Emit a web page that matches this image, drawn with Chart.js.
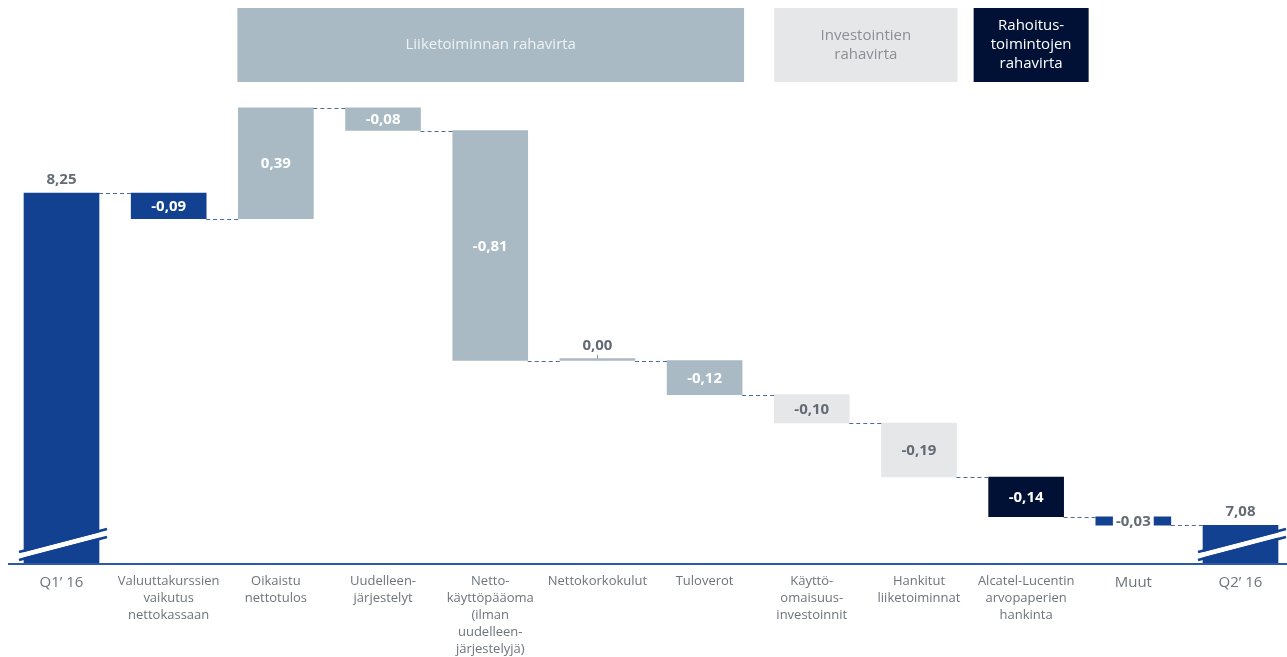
<!DOCTYPE html>
<html>
<head>
<meta charset="utf-8">
<script src="https://cdn.jsdelivr.net/npm/chart.js@4.4.1/dist/chart.umd.min.js"></script>
<style>
html,body{margin:0;padding:0;background:#fff;}
#wrap{width:1287px;height:657px;position:relative;}
</style>
</head>
<body>
<div id="wrap"><canvas id="c" width="1287" height="657"></canvas></div>
<script>
const categories = [
  "Q1’ 16",
  ["Valuuttakurssien","vaikutus","nettokassaan"],
  ["Oikaistu","nettotulos"],
  ["Uudelleen-","järjestelyt"],
  ["Netto-","käyttöpääoma","(ilman","uudelleen-","järjestelyjä)"],
  "Nettokorkokulut",
  "Tuloverot",
  ["Käyttö-","omaisuus-","investoinnit"],
  ["Hankitut","liiketoiminnat"],
  ["Alcatel-Lucentin","arvopaperien","hankinta"],
  "Muut",
  "Q2’ 16"
];
const deltas = [8.25, -0.09, 0.39, -0.08, -0.81, 0.00, -0.12, -0.10, -0.19, -0.14, -0.03, 7.08];
const isTotal = [true, false, false, false, false, false, false, false, false, false, false, true];
const valueLabels = ["8,25","-0,09","0,39","-0,08","-0,81","0,00","-0,12","-0,10","-0,19","-0,14","-0,03","7,08"];
const groupTitles = [["Liiketoiminnan rahavirta"], ["Investointien","rahavirta"], ["Rahoitus-","toimintojen","rahavirta"]];

const BLUE = "#124191", GREYBLUE = "#A9BAC4", LIGHT = "#E6E7E9", NAVY = "#001135";
const barColors = [BLUE, BLUE, GREYBLUE, GREYBLUE, GREYBLUE, GREYBLUE, GREYBLUE, LIGHT, LIGHT, NAVY, BLUE, BLUE];
const labelColors = ["#646b74","#ffffff","#ffffff","#ffffff","#ffffff","#646b74","#ffffff","#646b74","#646b74","#ffffff","#646b74","#646b74"];
const labelPlace = ["above","inside","inside","inside","inside","above","inside","inside","inside","inside","boxed","above"];

const axisFloor = 6.947;
const axisTop = 8.5775;

let run = 0;
const ranges = deltas.map((d, i) => {
  if (isTotal[i]) { run = d; return [axisFloor, d]; }
  const s = run; run = +(run + d).toFixed(4); return [s, run];
});
const levels = ranges.map(r => r[1]);

const FONT = "'Open Sans', 'Noto Sans', sans-serif";

const decor = {
  id: 'decor',
  beforeDatasetsDraw(chart) {
    const ctx = chart.ctx, x = chart.scales.x;
    const half = 37.5;
    const boxes = [
      {l: x.getPixelForValue(2) - half - 1, r: x.getPixelForValue(6) + half + 2, bg: GREYBLUE, fg: "#eef2f4", lines: groupTitles[0]},
      {l: x.getPixelForValue(7) - half, r: x.getPixelForValue(8) + half + 1, bg: LIGHT, fg: "#8a8f95", lines: groupTitles[1]},
      {l: x.getPixelForValue(9) - half - 15, r: x.getPixelForValue(9) + half + 25, bg: NAVY, fg: "#ffffff", lines: groupTitles[2]}
    ];
    ctx.save();
    boxes.forEach(b => {
      ctx.fillStyle = b.bg;
      ctx.fillRect(b.l, 8, b.r - b.l, 74);
      ctx.fillStyle = b.fg;
      ctx.font = "15px " + FONT;
      ctx.textAlign = "center"; ctx.textBaseline = "middle";
      const lh = 19, cy = 45;
      b.lines.forEach((t, k) => ctx.fillText(t, (b.l + b.r) / 2, cy + (k - (b.lines.length - 1) / 2) * lh));
    });
    ctx.restore();
  },
  afterDatasetsDraw(chart) {
    const ctx = chart.ctx, x = chart.scales.x, y = chart.scales.y;
    const meta = chart.getDatasetMeta(0);
    ctx.save();
    // connectors
    ctx.strokeStyle = "#4a6aa6"; ctx.lineWidth = 1; ctx.setLineDash([4, 3]);
    for (let i = 0; i < meta.data.length - 1; i++) {
      const a = meta.data[i], b = meta.data[i + 1];
      const yy = Math.round(y.getPixelForValue(levels[i])) + 0.5;
      ctx.beginPath();
      ctx.moveTo(a.x + a.width / 2, yy);
      ctx.lineTo(b.x - b.width / 2, yy);
      ctx.stroke();
    }
    ctx.setLineDash([]);
    // small tick on zero bar
    const z = meta.data[5];
    ctx.strokeStyle = "#8fa0aa"; ctx.lineWidth = 1;
    ctx.beginPath(); ctx.moveTo(Math.round(z.x) + 0.5, z.y - 4); ctx.lineTo(Math.round(z.x) + 0.5, z.y); ctx.stroke();
    // baseline
    const by = chart.chartArea.bottom;
    ctx.strokeStyle = "#2d58a3"; ctx.lineWidth = 2;
    ctx.beginPath(); ctx.moveTo(8, by + 1); ctx.lineTo(1287, by + 1); ctx.stroke();
    // axis breaks on total bars
    [0, 11].forEach(i => {
      const el = meta.data[i];
      const L = el.x - el.width / 2 - 5, R = el.x + el.width / 2 + 8;
      const yL = by - 7, yR = by - 30;
      ctx.strokeStyle = "#ffffff"; ctx.lineWidth = 5;
      ctx.beginPath(); ctx.moveTo(L - 2, yL + 0.5); ctx.lineTo(R + 2, yR - 0.5); ctx.stroke();
      ctx.strokeStyle = BLUE; ctx.lineWidth = 2.5;
      [-4, 4].forEach(o => {
        ctx.beginPath(); ctx.moveTo(L, yL + o); ctx.lineTo(R, yR + o); ctx.stroke();
      });
    });
    // value labels
    ctx.textAlign = "center"; ctx.textBaseline = "middle";
    meta.data.forEach((el, i) => {
      const top = Math.min(el.y, el.base), bot = Math.max(el.y, el.base);
      ctx.font = "bold 15px " + FONT;
      let ty;
      if (labelPlace[i] === "above") ty = top - 14;
      else ty = (top + bot) / 2;
      if (labelPlace[i] === "boxed") {
        const w = ctx.measureText(valueLabels[i]).width + 6;
        ctx.fillStyle = "#ffffff";
        ctx.fillRect(el.x - w / 2, ty - 9, w, 18);
      }
      ctx.fillStyle = labelColors[i];
      ctx.fillText(valueLabels[i], el.x, ty + 1);
    });
    ctx.restore();
  }
};

new Chart(document.getElementById('c'), {
  type: 'bar',
  data: {
    labels: categories,
    datasets: [{
      data: ranges,
      backgroundColor: barColors,
      borderWidth: 0,
      barThickness: 75,
      minBarLength: 2,
      clip: false
    }]
  },
  options: {
    responsive: false,
    animation: false,
    layout: { padding: { left: 61.5, right: 46.5, top: 100, bottom: 0 } },
    plugins: { legend: { display: false }, tooltip: { enabled: false } },
    scales: {
      x: {
        offset: false,
        grid: { display: false, drawTicks: false },
        border: { display: false },
        afterFit(scale) { scale.height = 94; },
        ticks: {
          autoSkip: false,
          maxRotation: 0,
          padding: 10,
          color: "#6e747b",
          font: (c) => ({ family: FONT, size: (c.index === 0 || c.index === 10 || c.index === 11) ? 15 : 13, lineHeight: 1.3 })
        }
      },
      y: {
        display: false,
        min: axisFloor,
        max: axisTop
      }
    }
  },
  plugins: [decor]
});
</script>
</body>
</html>
